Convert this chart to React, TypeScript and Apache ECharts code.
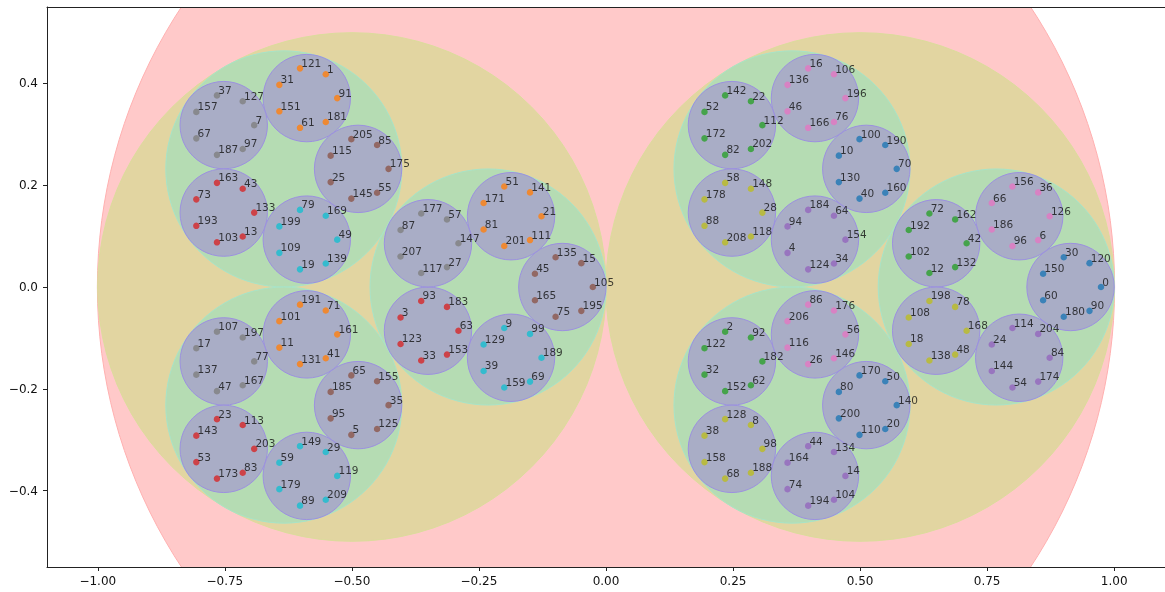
import React, { useEffect, useRef } from "react";
import * as echarts from "echarts";

// Hierarchical circle packing: number of children at each nesting level
// (red root -> 2 yellow -> 3 green each -> 5 purple each -> 7 points each)
const branching = [2, 3, 5, 7];
const rootCircle = [0, 0, 1];
const pointCount = 210;

const levelFills = ["#ffc9c9", "#e2d5a1", "#b5dcb3", "#a9adc6"];
const levelEdges = ["#ffb0b0", "#dcdc9c", "#a8e4c8", "#9c90e0"];
const pointColors = [
  "#1f77b4", "#ff7f0e", "#2ca02c", "#d62728", "#9467bd",
  "#8c564b", "#e377c2", "#7f7f7f", "#bcbd22", "#17becf",
];
const xTicks = [-1, -0.75, -0.5, -0.25, 0, 0.25, 0.5, 0.75, 1];
const yTicks = [-0.4, -0.2, 0, 0.2, 0.4];

function buildLayout() {
  const circles: number[][][] = [[rootCircle], [], [], []];
  const seen: Set<string>[] = [new Set(), new Set(), new Set(), new Set()];
  const points: number[][] = [];
  for (let i = 0; i < pointCount; i++) {
    let [cx, cy, R] = rootCircle;
    let key = "";
    for (let k = 0; k < branching.length; k++) {
      const n = branching[k];
      const j = i % n;
      const s = Math.sin(Math.PI / n);
      const r = (R * s) / (1 + s);
      const d = R - r;
      const a = (2 * Math.PI * j) / n;
      cx = cx + d * Math.cos(a);
      cy = cy + d * Math.sin(a);
      R = r;
      key += "|" + j;
      if (k < branching.length - 1) {
        if (!seen[k + 1].has(key)) {
          seen[k + 1].add(key);
          circles[k + 1].push([cx, cy, r]);
        }
      }
    }
    points.push([cx, cy, i]);
  }
  return { circles, points };
}

const fmt = (v: number, d: number) => v.toFixed(d).replace("-", "\u2212");

export default function App() {
  const ref = useRef<HTMLDivElement>(null);
  useEffect(() => {
    if (!ref.current) return;
    const chart = echarts.init(ref.current, undefined, { renderer: "svg" });
    const { circles, points } = buildLayout();
    const font = "DejaVu Sans";
    const circleSeries = circles.map((data, lvl) => ({
      type: "custom",
      z: 1 + lvl,
      clip: true,
      silent: true,
      data,
      encode: { x: 0, y: 1 },
      renderItem: (_p: any, api: any) => {
        const c = api.coord([api.value(0), api.value(1)]);
        const s = api.size([api.value(2), api.value(2)]);
        return {
          type: "circle",
          shape: { cx: c[0], cy: c[1], r: (s[0] + s[1]) / 2 },
          style: { fill: levelFills[lvl], stroke: levelEdges[lvl], lineWidth: 1 },
        };
      },
    }));
    const axisCommon = {
      type: "value",
      z: 20,
      splitLine: { show: false },
      axisLine: { show: true, onZero: false, lineStyle: { color: "#222", width: 1 } },
    };
    chart.setOption({
      animation: false,
      grid: { left: 47, top: 7, width: 1122, height: 560 },
      xAxis: [
        {
          ...axisCommon,
          min: -1.1,
          max: 1.1,
          position: "bottom",
          axisTick: { show: true, length: 4, customValues: xTicks, lineStyle: { color: "#222" } },
          axisLabel: {
            customValues: xTicks,
            formatter: (v: number) => fmt(v, 2),
            fontFamily: font,
            fontSize: 12,
            color: "#111",
            margin: 8,
          },
        },
        {
          ...axisCommon,
          min: -1.1,
          max: 1.1,
          position: "top",
          axisTick: { show: false },
          axisLabel: { show: false },
        },
      ],
      yAxis: [
        {
          ...axisCommon,
          min: -0.55,
          max: 0.55,
          position: "left",
          axisTick: { show: true, length: 4, customValues: yTicks, lineStyle: { color: "#222" } },
          axisLabel: {
            customValues: yTicks,
            formatter: (v: number) => fmt(v, 1),
            fontFamily: font,
            fontSize: 12,
            color: "#111",
            margin: 9,
          },
        },
        {
          ...axisCommon,
          min: -0.55,
          max: 0.55,
          position: "right",
          axisTick: { show: false },
          axisLabel: { show: false },
        },
      ],
      series: [
        ...circleSeries,
        {
          type: "scatter",
          z: 10,
          clip: true,
          symbolSize: 6.5,
          data: points.map((p) => ({
            value: p,
            itemStyle: { color: pointColors[p[2] % 10] },
          })),
          label: {
            show: true,
            formatter: (p: any) => String(p.value[2]),
            position: [4.5, 3.25],
            align: "left",
            verticalAlign: "bottom",
            fontFamily: font,
            fontSize: 10.5,
            color: "#111",
          },
          emphasis: { disabled: true },
        },
      ],
    });
    return () => chart.dispose();
  }, []);
  return (
    <div
      ref={ref}
      style={{ position: "fixed", left: 0, top: 0, width: 1165, height: 592 }}
    />
  );
}
